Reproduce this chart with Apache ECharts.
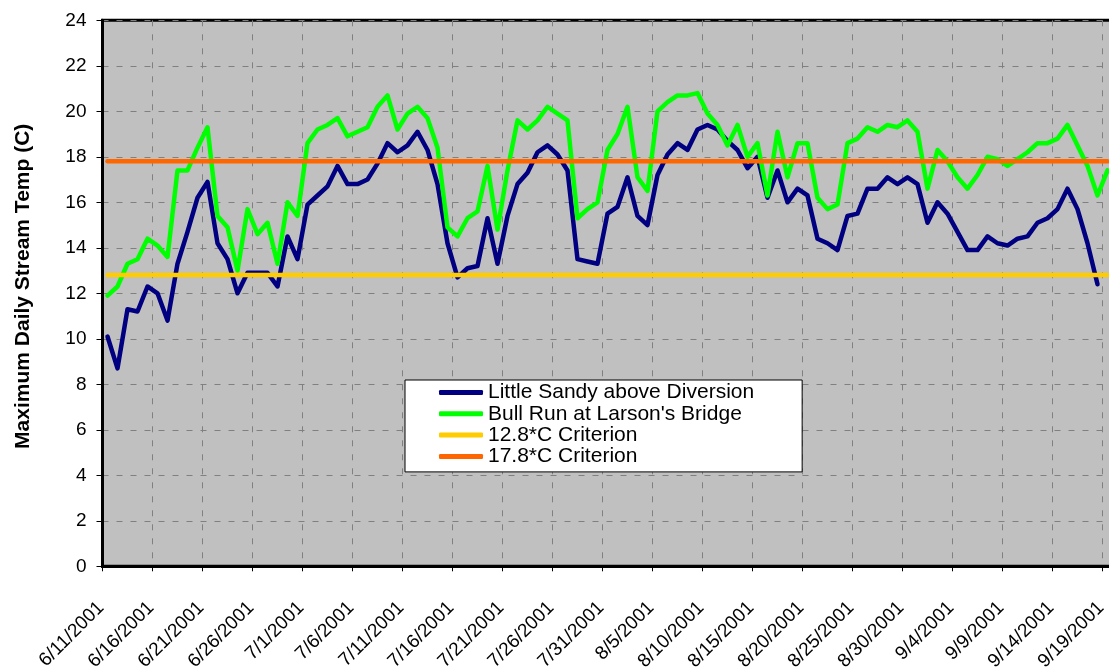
<!DOCTYPE html>
<html>
<head>
<meta charset="utf-8">
<title>Maximum Daily Stream Temperature, Summer 2001</title>
<script src="https://cdn.jsdelivr.net/npm/echarts@6/dist/echarts.min.js"></script>
<style>
  html, body { margin: 0; padding: 0; background: #ffffff; }
  #chart { width: 1109px; height: 667px; }
</style>
</head>
<body>
<div id="chart"></div>
<script>
// Daily maximum stream temperature (°C), 6/11/2001 – 9/19/2001
const startDate = { year: 2001, month: 6, day: 11 };
const dayCount = 101;

const littleSandy = [
  10.1, 8.7, 11.3, 11.2, 12.3, 12.0, 10.8, 13.3, 14.7, 16.2,
  16.9, 14.2, 13.5, 12.0, 12.9, 12.9, 12.9, 12.3, 14.5, 13.5,
  15.9, 16.3, 16.7, 17.6, 16.8, 16.8, 17.0, 17.7, 18.6, 18.2,
  18.5, 19.1, 18.3, 16.8, 14.2, 12.7, 13.1, 13.2, 15.3, 13.3,
  15.4, 16.8, 17.3, 18.2, 18.5, 18.1, 17.4, 13.5, 13.4, 13.3,
  15.5, 15.8, 17.1, 15.4, 15.0, 17.2, 18.1, 18.6, 18.3, 19.2,
  19.4, 19.2, 18.7, 18.3, 17.5, 18.0, 16.2, 17.4, 16.0, 16.6,
  16.3, 14.4, 14.2, 13.9, 15.4, 15.5, 16.6, 16.6, 17.1, 16.8,
  17.1, 16.8, 15.1, 16.0, 15.5, 14.7, 13.9, 13.9, 14.5, 14.2,
  14.1, 14.4, 14.5, 15.1, 15.3, 15.7, 16.6, 15.7, 14.2, 12.4
];

const bullRun = [
  11.9, 12.3, 13.3, 13.5, 14.4, 14.1, 13.6, 17.4, 17.4, 18.4,
  19.3, 15.4, 14.9, 13.0, 15.7, 14.6, 15.1, 13.3, 16.0, 15.4,
  18.6, 19.2, 19.4, 19.7, 18.9, 19.1, 19.3, 20.2, 20.7, 19.2,
  19.9, 20.2, 19.7, 18.4, 14.9, 14.5, 15.3, 15.6, 17.6, 14.8,
  17.4, 19.6, 19.2, 19.6, 20.2, 19.9, 19.6, 15.3, 15.7, 16.0,
  18.3, 19.0, 20.2, 17.1, 16.5, 20.0, 20.4, 20.7, 20.7, 20.8,
  19.9, 19.4, 18.5, 19.4, 18.0, 18.6, 16.3, 19.1, 17.1, 18.6,
  18.6, 16.2, 15.7, 15.9, 18.6, 18.8, 19.3, 19.1, 19.4, 19.3,
  19.6, 19.1, 16.6, 18.3, 17.8, 17.1, 16.6, 17.2, 18.0, 17.9,
  17.6, 17.9, 18.2, 18.6, 18.6, 18.8, 19.4, 18.5, 17.6, 16.3,
  17.4
];

const criterionLow = 12.8;
const criterionHigh = 17.8;

const seriesNames = [
  'Little Sandy above Diversion',
  "Bull Run at Larson's Bridge",
  '12.8*C Criterion',
  '17.8*C Criterion'
];

const yTicks = { min: 0, max: 24, step: 2 };
const xTickStep = 5;

// m/d/yyyy labels for each day of the record
const dateLabels = [];
for (let i = 0; i < dayCount; i++) {
  const d = new Date(Date.UTC(startDate.year, startDate.month - 1, startDate.day + i));
  dateLabels.push((d.getUTCMonth() + 1) + '/' + d.getUTCDate() + '/' + d.getUTCFullYear());
}

// each daily value sits in the middle of its day slot
const toPoints = arr => arr.map((v, i) => [i + 0.5, v]);
const flatLine = v => [[0.5, v], [dayCount - 0.5, v]];

const FONT = '"Liberation Sans", Arial, sans-serif';
const gridDash = { color: '#808080', width: 1, type: [6, 8] };

const lineSeries = (name, data, color) => ({
  name: name,
  type: 'line',
  data: data,
  symbol: 'none',
  smooth: false,
  lineStyle: { color: color, width: 4.5, cap: 'round', join: 'round' },
  itemStyle: { color: color },
  emphasis: { disabled: true },
  silent: true
});

const chart = echarts.init(document.getElementById('chart'), null, { renderer: 'canvas' });

chart.setOption({
  animation: false,
  backgroundColor: '#ffffff',
  textStyle: { fontFamily: FONT, color: '#000000' },
  grid: {
    left: 102.5,
    top: 20.3,
    width: 1010,
    height: 546,
    containLabel: false,
    outerBoundsMode: 'none',
    show: true,
    backgroundColor: '#c0c0c0',
    borderColor: '#000000',
    borderWidth: 3
  },
  xAxis: {
    type: 'value',
    min: 0,
    max: dayCount,
    interval: xTickStep,
    axisLine: { show: true, onZero: false, lineStyle: { color: '#000000', width: 3 } },
    axisTick: { show: true, length: 5, lineStyle: { color: '#000000', width: 1 } },
    splitLine: { show: true, lineStyle: gridDash },
    axisLabel: {
      rotate: 45,
      margin: 37,
      fontSize: 19,
      fontFamily: FONT,
      color: '#000000',
      padding: [0, 2, 10, 0],
      showMaxLabel: false,
      formatter: v => (v % xTickStep === 0 && v < dayCount) ? dateLabels[v] : ''
    }
  },
  yAxis: {
    type: 'value',
    min: yTicks.min,
    max: yTicks.max,
    interval: yTicks.step,
    name: 'Maximum Daily Stream Temp (C)',
    nameLocation: 'middle',
    nameGap: 69,
    nameTextStyle: {
      fontFamily: FONT,
      fontSize: 21,
      fontWeight: 'bold',
      color: '#000000',
      padding: [0, 0, 0, 14]
    },
    axisLine: { show: true, lineStyle: { color: '#000000', width: 3 } },
    axisTick: { show: true, length: 6, lineStyle: { color: '#000000', width: 1 } },
    splitLine: { show: true, lineStyle: gridDash },
    axisLabel: { margin: 16, fontSize: 19, fontFamily: FONT, color: '#000000' }
  },
  legend: {
    show: true,
    orient: 'vertical',
    left: 405,
    top: 380,
    padding: [2, 48, 5, 34],
    itemGap: 0.3,
    itemWidth: 44,
    itemHeight: 5,
    icon: 'roundRect',
    selectedMode: false,
    backgroundColor: '#ffffff',
    borderColor: '#000000',
    borderWidth: 1,
    borderRadius: 0,
    textStyle: { fontFamily: FONT, fontSize: 21, color: '#000000', padding: [0, 0, 0, 0] },
    data: seriesNames
  },
  series: [
    lineSeries(seriesNames[0], toPoints(littleSandy), '#000080'),
    lineSeries(seriesNames[1], toPoints(bullRun), '#00ff00'),
    lineSeries(seriesNames[2], flatLine(criterionLow), '#ffcc00'),
    lineSeries(seriesNames[3], flatLine(criterionHigh), '#ff6600')
  ]
});
</script>
</body>
</html>
